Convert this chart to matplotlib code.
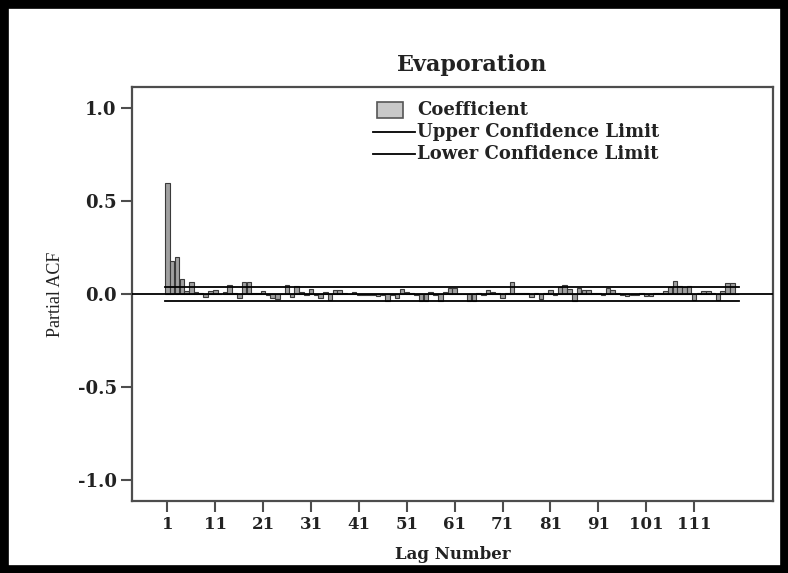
import numpy as np
import matplotlib
matplotlib.use("Agg")
import matplotlib.pyplot as plt
from matplotlib.patches import Rectangle
from matplotlib.lines import Line2D

# partial autocorrelation of evaporation, lags 1..120
lags = list(range(1, 121))
pacf = [
    0.595, 0.177, 0.198, 0.079, 0.015, 0.064, 0.010, 0.005, -0.018, 0.015,
    0.020, 0.002, 0.010, 0.048, 0.005, -0.023, 0.064, 0.064, 0.005, 0.005,
    0.018, -0.005, -0.023, -0.029, 0.002, 0.048, -0.015, 0.045, 0.010, -0.005,
    0.025, -0.005, -0.022, 0.010, -0.032, 0.020, 0.021, 0.003, 0.002, 0.011,
    -0.007, -0.008, -0.006, -0.008, -0.010, -0.005, -0.040, -0.003, -0.020, 0.027,
    0.012, 0.004, -0.003, -0.038, -0.035, 0.011, -0.004, -0.040, 0.010, 0.030,
    0.030, 0.002, -0.002, -0.035, -0.035, 0.003, -0.004, 0.020, 0.010, 0.004,
    -0.020, 0.004, 0.063, 0.003, 0.004, 0.004, -0.015, 0.003, -0.027, 0.004,
    0.020, -0.005, 0.035, 0.048, 0.025, -0.040, 0.030, 0.020, 0.020, 0.004,
    0.005, -0.004, 0.030, 0.020, 0.003, -0.004, -0.012, -0.005, -0.005, 0.003,
    -0.010, -0.010, 0.003, 0.005, 0.015, 0.035, 0.068, 0.045, 0.040, 0.045,
    -0.030, 0.005, 0.015, 0.015, 0.003, -0.032, 0.015, 0.060, 0.060, 0.002,
]
upper_limit = 0.039
lower_limit = -0.039

y_ticks = [1.0, 0.5, 0.0, -0.5, -1.0]
x_ticks = list(range(1, 121, 10))
legend_labels = ["Coefficient", "Upper Confidence Limit", "Lower Confidence Limit"]

W, H = 788, 573
fig = plt.figure(figsize=(W / 100, H / 100), dpi=100)
fig.patch.set_facecolor("white")

def fx(px):
    return px / W

def fy(py):
    return 1 - py / H

# thick black frame round the whole chart
fig.patches.append(Rectangle((0, 0), 1, 1, transform=fig.transFigure,
                             fill=False, edgecolor="black", linewidth=12))

ax = fig.add_axes([fx(132), fy(501), fx(773) - fx(132), fy(87) - fy(501)])

ax.bar(lags, pacf, width=0.95, color="#a0a0a0", edgecolor="#3a3a3a",
       linewidth=0.8, zorder=2)
ax.axhline(0, color="black", linewidth=1.3, zorder=3)
ax.plot([0.5, 120.5], [upper_limit, upper_limit], color="black", linewidth=1.3, zorder=3)
ax.plot([0.5, 120.5], [lower_limit, lower_limit], color="black", linewidth=1.3, zorder=3)

ax.set_xlim(-6.4, 127.5)
ax.set_ylim(-1.11, 1.11)

serif = ["DejaVu Serif"]
ax.set_yticks(y_ticks)
ax.set_yticklabels([f"{v:.1f}" for v in y_ticks], fontfamily=serif,
                   fontweight="bold", fontsize=13, color="#222222")
ax.set_xticks(x_ticks)
ax.set_xticklabels([str(v) for v in x_ticks], fontfamily=serif,
                   fontweight="bold", fontsize=12, color="#222222")
ax.tick_params(direction="out", length=8, width=1.5, color="#4d4d4d", pad=3)

for s in ax.spines.values():
    s.set_color("#4d4d4d")
    s.set_linewidth(1.6)

ax.set_ylabel("Partial ACF", fontfamily=["Liberation Serif"], fontsize=13,
              color="#222222", labelpad=10)
ax.set_xlabel("Lag Number", fontfamily=serif, fontweight="bold", fontsize=12,
              color="#222222", labelpad=9)

fig.text(fx(472), fy(65), "Evaporation", ha="center", va="center",
         fontfamily=serif, fontweight="bold", fontsize=16, color="#222222")

# legend drawn by hand: small swatch for the bars, longer strokes for the limits
fig.patches.append(Rectangle((fx(377), fy(118)), fx(403) - fx(377), fy(102) - fy(118),
                             transform=fig.transFigure, facecolor="#c8c8c8",
                             edgecolor="#555555", linewidth=1.2))
for py in (132, 154):
    fig.add_artist(Line2D([fx(373), fx(415)], [fy(py), fy(py)],
                          transform=fig.transFigure, color="black", linewidth=1.3))
for py, lab in zip((110, 132, 154), legend_labels):
    fig.text(fx(417), fy(py), lab, ha="left", va="center", fontfamily=serif,
             fontweight="bold", fontsize=13, color="#222222")

fig.savefig("out.png", dpi=100)
